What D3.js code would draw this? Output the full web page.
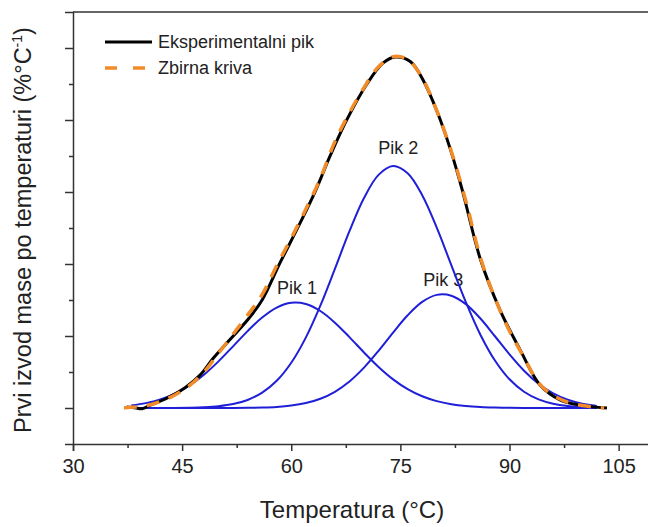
<!DOCTYPE html>
<html>
<head>
<meta charset="utf-8">
<script src="https://cdn.jsdelivr.net/npm/d3@7"></script>
<style>
  body { margin: 0; background: #fff; }
  svg { display: block; font-family: "Liberation Sans", Arial, sans-serif; }
</style>
</head>
<body>
<svg id="chart" width="648" height="527"></svg>
<script>
const expTemp = [37.4, 38.5, 39.5, 40.6, 42.7, 45.4, 47.5, 49.3, 51.9, 54.3, 56.0, 58.5, 61.0, 63.3, 65.4, 67.7,
  70.4, 72.6, 74.3, 76.4, 78.1, 80.1, 81.9, 83.5, 86.0, 88.7, 91.5, 94.2, 97.0, 99.7, 103.4];
const expValue = [0.003, 0.001, -0.002, 0.008, 0.025, 0.056, 0.092, 0.139, 0.197, 0.252, 0.30, 0.405, 0.505, 0.602, 0.703, 0.803,
  0.900, 0.958, 0.975, 0.962, 0.912, 0.821, 0.717, 0.606, 0.413, 0.272, 0.16, 0.064, 0.022, 0.008, 0.0];

// fitted sum curve
const sumTemp = [37, 38, 40, 42, 44, 46, 48, 50, 52, 54, 56, 58, 60, 62, 64, 66, 68, 70, 72, 74,
  76, 78, 80, 82, 84, 86, 88, 90, 92, 94, 96, 98, 100, 102, 103];
const sumValue = [0.001, 0.002, 0.006, 0.018, 0.036, 0.062, 0.100, 0.152, 0.205, 0.258, 0.315, 0.395, 0.472, 0.552, 0.638, 0.740, 0.820, 0.890, 0.948, 0.976,
  0.968, 0.917, 0.826, 0.713, 0.575, 0.418, 0.305, 0.214, 0.140, 0.070, 0.035, 0.016, 0.007, 0.002, 0.0];

// deconvoluted peaks
const peakTemp = [38, 40, 42, 44, 46, 48, 50, 52, 54, 56, 58, 60, 62, 64, 66, 68, 70, 72, 74, 76,
  78, 80, 82, 84, 86, 88, 90, 92, 94, 96, 98, 100, 102];
const pik1 = [0.0072, 0.0135, 0.0238, 0.0396, 0.0624, 0.0926, 0.1296, 0.1713, 0.2136, 0.2513,
  0.2790, 0.2922, 0.2889, 0.2694, 0.2371, 0.1969, 0.1543, 0.1141, 0.0796, 0.0524,
  0.0326, 0.0191, 0.0106, 0.0055, 0.0027, 0.0013, 0.0006, 0.0002, 0.0001, 0, 0, 0, 0];
const pik2 = [0, 0, 0.0001, 0.0003, 0.0009, 0.0022, 0.0050, 0.0109, 0.0223, 0.0425,
  0.0755, 0.1257, 0.1956, 0.2843, 0.3865, 0.4910, 0.5832, 0.6475, 0.6720, 0.6518,
  0.5911, 0.5011, 0.3970, 0.2941, 0.2036, 0.1318, 0.0797, 0.0451, 0.0238, 0.0118, 0.0054, 0.0024, 0.0009];
const pik3 = [0, 0, 0, 0, 0, 0, 0.0001, 0.0002, 0.0005, 0.0013,
  0.0031, 0.0068, 0.0137, 0.0257, 0.0451, 0.0737, 0.1121, 0.1588, 0.2095, 0.2575,
  0.2947, 0.3142, 0.3120, 0.2885, 0.2485, 0.1993, 0.1489, 0.1036, 0.0672, 0.0405, 0.0228, 0.0119, 0.0058];

const peakNames = ["Pik 1", "Pik 2", "Pik 3"];
const peakLabelPos = [[60.8, 0.317], [74.7, 0.706], [80.9, 0.339]];

const xTicks = [30, 45, 60, 75, 90, 105];
const xMinor = [37.5, 52.5, 67.5, 82.5, 97.5];
const yTicks = [0, 0.2, 0.4, 0.6, 0.8, 1.0];
const yMinor = [0.1, 0.3, 0.5, 0.7, 0.9];

const svg = d3.select("#chart");
svg.append("rect").attr("width", 648).attr("height", 527).attr("fill", "#fff");

const x = d3.scaleLinear().domain([30, 110]).range([73, 655]);
const y = d3.scaleLinear().domain([-0.1, 1.1]).range([444, 12]);

const axisColor = "#333";

// bottom axis
svg.append("g").attr("transform", "translate(0,444)")
  .call(d3.axisBottom(x).tickValues(xTicks).tickSize(7).tickPadding(8).tickFormat(d3.format("d")));
svg.append("g").attr("transform", "translate(0,444)")
  .call(d3.axisBottom(x).tickValues(xMinor).tickSize(4).tickFormat(""))
  .select(".domain").remove();

// left axis
svg.append("g").attr("transform", "translate(73,0)")
  .call(d3.axisLeft(y).tickValues(yTicks).tickSize(8).tickFormat(""));
svg.append("g").attr("transform", "translate(73,0)")
  .call(d3.axisLeft(y).tickValues(yMinor).tickSize(4).tickFormat(""))
  .select(".domain").remove();

// top frame line
svg.append("line")
  .attr("x1", x(30)).attr("x2", x(110))
  .attr("y1", y(1.1)).attr("y2", y(1.1))
  .attr("stroke", axisColor).attr("stroke-width", 1.5);

svg.selectAll(".domain, .tick line").attr("stroke", axisColor).attr("stroke-width", 1.5);
svg.selectAll(".tick text").attr("fill", "#222").style("font-size", "20px")
  .style("font-family", "'Liberation Sans', Arial, sans-serif");

// axis titles
svg.append("text")
  .attr("x", 352).attr("y", 518)
  .attr("text-anchor", "middle")
  .attr("fill", "#222")
  .style("font-size", "24px")
  .text("Temperatura (°C)");

const yTitle = svg.append("text")
  .attr("transform", "translate(31,230) rotate(-90)")
  .attr("text-anchor", "middle")
  .attr("fill", "#222")
  .style("font-size", "23.5px");
yTitle.append("tspan").text("Prvi izvod mase po temperaturi (%°C");
yTitle.append("tspan").attr("dy", -9).style("font-size", "14px").text("-1");
yTitle.append("tspan").attr("dy", 9).text(")");

// peak labels
svg.selectAll("text.pk")
  .data(peakNames)
  .join("text")
  .attr("class", "pk")
  .attr("x", (d, i) => x(peakLabelPos[i][0]))
  .attr("y", (d, i) => y(peakLabelPos[i][1]))
  .attr("text-anchor", "middle")
  .attr("fill", "#222")
  .style("font-size", "18px")
  .text(d => d);

const line = d3.line()
  .x(d => x(d[0]))
  .y(d => y(d[1]))
  .curve(d3.curveCatmullRom);

// blue component peaks
[pik1, pik2, pik3].forEach(vals => {
  svg.append("path")
    .attr("d", line(peakTemp.map((t, i) => [t, vals[i]])))
    .attr("fill", "none")
    .attr("stroke", "#1f1fd8")
    .attr("stroke-width", 2);
});

// experimental
svg.append("path")
  .attr("d", line(expTemp.map((t, i) => [t, expValue[i]])))
  .attr("fill", "none")
  .attr("stroke", "#000")
  .attr("stroke-width", 3);

// sum curve
svg.append("path")
  .attr("d", line(sumTemp.map((t, i) => [t, sumValue[i]])))
  .attr("fill", "none")
  .attr("stroke", "#f28c28")
  .attr("stroke-width", 3.5)
  .attr("stroke-dasharray", "13,10");

// legend
const legend = svg.append("g");
legend.append("line")
  .attr("x1", 105).attr("x2", 152).attr("y1", 42).attr("y2", 42)
  .attr("stroke", "#000").attr("stroke-width", 3);
legend.append("line")
  .attr("x1", 105).attr("x2", 152).attr("y1", 68).attr("y2", 68)
  .attr("stroke", "#f28c28").attr("stroke-width", 3.5)
  .attr("stroke-dasharray", "12,16");
legend.append("text")
  .attr("x", 158).attr("y", 48)
  .attr("fill", "#222").style("font-size", "18px")
  .text("Eksperimentalni pik");
legend.append("text")
  .attr("x", 158).attr("y", 74)
  .attr("fill", "#222").style("font-size", "18px")
  .text("Zbirna kriva");
</script>
</body>
</html>
